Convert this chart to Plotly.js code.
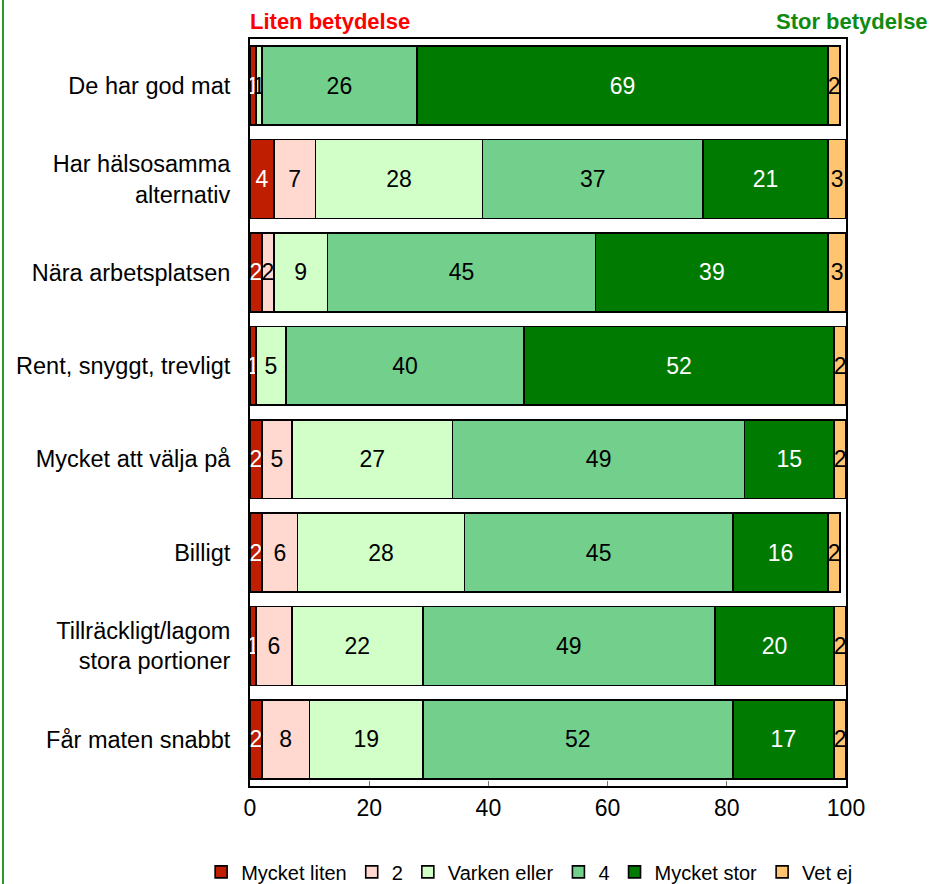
<!DOCTYPE html>
<html>
<head>
<meta charset="utf-8">
<script src="https://cdn.plot.ly/plotly-3.0.1.min.js"></script>
<style>
  html, body { margin: 0; padding: 0; background: #fff; }
  #wrap { position: relative; width: 935px; height: 884px; }
  #chart { width: 935px; height: 884px; }
  #edge { position: absolute; left: 2px; top: 0; width: 2px; height: 884px; background: #2a9a2a; }
</style>
</head>
<body>
<div id="wrap">
  <div id="chart"></div>
  <div id="edge"></div>
</div>
<script>
// Survey statements, top to bottom
const categories = [
  "De har god mat",
  "Har hälsosamma<br>alternativ",
  "Nära arbetsplatsen",
  "Rent, snyggt, trevligt",
  "Mycket att välja på",
  "Billigt",
  "Tillräckligt/lagom<br>stora portioner",
  "Får maten snabbt"
];

// Share of answers (%) per response option
const mycketLiten  = [1, 4, 2, 1, 2, 2, 1, 2];
const tva          = [0, 7, 2, 0, 5, 6, 6, 8];
const varkenEller  = [1, 28, 9, 5, 27, 28, 22, 19];
const fyra         = [26, 37, 45, 40, 49, 45, 49, 52];
const mycketStor   = [69, 21, 39, 52, 15, 16, 20, 17];
const vetEj        = [2, 3, 3, 2, 2, 2, 2, 2];

const seriesNames = ["Mycket liten", "2", "Varken eller", "4", "Mycket stor", "Vet ej"];
const seriesValues = [mycketLiten, tva, varkenEller, fyra, mycketStor, vetEj];
const seriesColors = ["#C01E00", "#FFD8D0", "#D2FFC8", "#72D08C", "#007A00", "#FFC470"];
const textColors   = ["#ffffff", "#000000", "#000000", "#000000", "#ffffff", "#000000"];

const FONT = "Liberation Sans, Arial, sans-serif";

const traces = seriesNames.map((name, i) => ({
  type: "bar",
  orientation: "h",
  name: name,
  y: categories,
  x: seriesValues[i],
  text: seriesValues[i].map(v => v === 0 ? "" : String(v)),
  textposition: "inside",
  insidetextanchor: "middle",
  textangle: 0,
  constraintext: "none",
  insidetextfont: { family: FONT, size: 23, color: textColors[i] },
  marker: { color: seriesColors[i], line: { color: "#000000", width: 1.6 } },
  hoverinfo: "x+name"
}));

const layout = {
  width: 935,
  height: 884,
  margin: { l: 250, r: 89, t: 39, b: 98, autoexpand: false },
  barmode: "stack",
  bargap: 0.155,
  paper_bgcolor: "#ffffff",
  plot_bgcolor: "#ffffff",
  font: { family: FONT, size: 20, color: "#000" },
  xaxis: {
    range: [0, 100],
    dtick: 20,
    tick0: 0,
    ticks: "inside",
    ticklen: 5,
    tickcolor: "#777",
    showgrid: false,
    zeroline: false,
    showline: true,
    linecolor: "#000",
    linewidth: 2,
    mirror: true,
    tickfont: { family: FONT, size: 23, color: "#000" }
  },
  yaxis: {
    autorange: "reversed",
    ticks: "",
    ticklabelstandoff: 13,
    showgrid: false,
    zeroline: false,
    showline: true,
    linecolor: "#000",
    linewidth: 2,
    mirror: true,
    tickfont: { family: FONT, size: 23.5, color: "#000" }
  },
  legend: {
    orientation: "h",
    x: -0.082,
    xanchor: "left",
    y: -0.115,
    yanchor: "middle",
    font: { family: FONT, size: 20, color: "#000" },
    itemwidth: 30,
    traceorder: "normal"
  },
  annotations: [
    {
      text: "<b>Liten betydelse</b>",
      xref: "paper", yref: "paper",
      x: -0.004, y: 1.023,
      xanchor: "left", yanchor: "middle",
      showarrow: false,
      font: { family: FONT, size: 22, color: "#FF0000" }
    },
    {
      text: "<b>Stor betydelse</b>",
      xref: "paper", yref: "paper",
      x: 1.141, y: 1.023,
      xanchor: "right", yanchor: "middle",
      showarrow: false,
      font: { family: FONT, size: 22, color: "#118A11" }
    }
  ]
};

Plotly.newPlot("chart", traces, layout, { displayModeBar: false, staticPlot: true });
</script>
</body>
</html>
